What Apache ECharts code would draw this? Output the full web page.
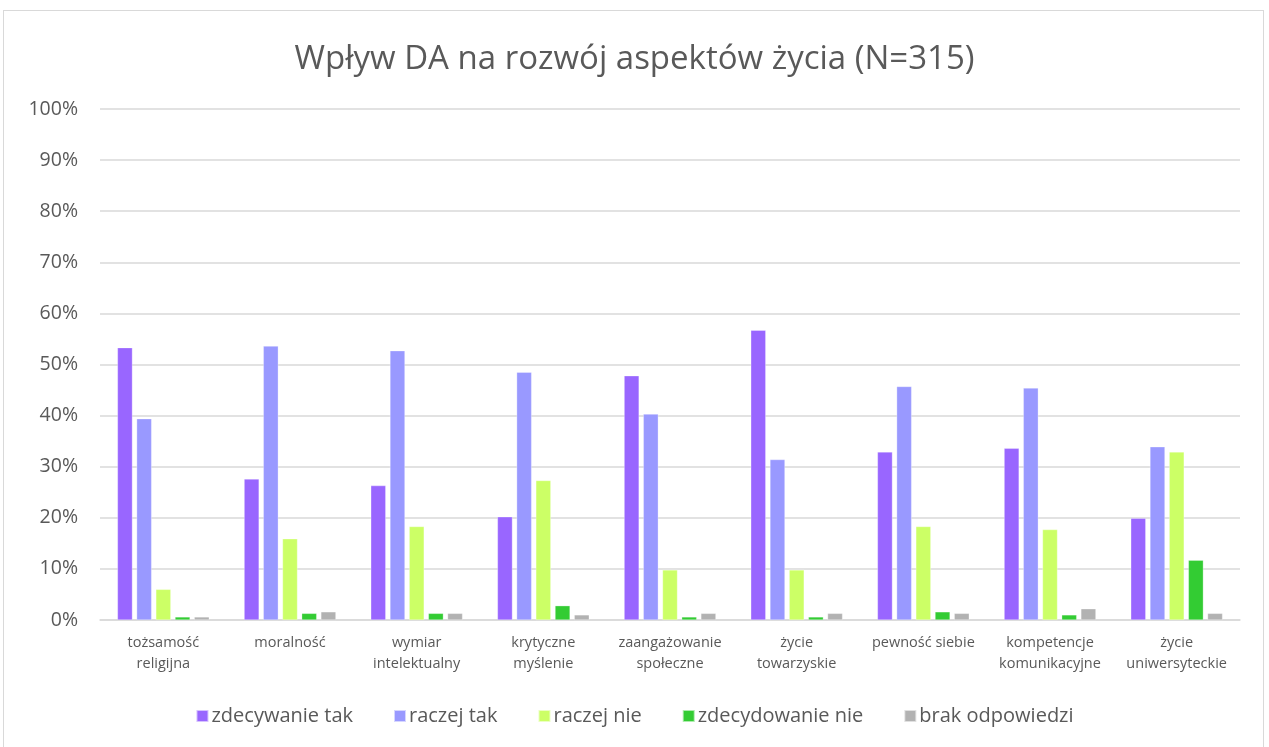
<!DOCTYPE html>
<html><head><meta charset="utf-8">
<script src="https://cdn.jsdelivr.net/npm/echarts@6/dist/echarts.min.js"></script>
<style>
html,body{margin:0;padding:0;background:#fff;}
#frame{position:absolute;left:3px;top:10px;width:1261px;height:740px;border:1px solid #d9d9d9;box-sizing:border-box;}
#c{position:absolute;left:0;top:0;width:1269px;height:747px;}
</style></head>
<body>
<div id="frame"></div>
<div id="c"></div>
<script>
const categories = ["tożsamość\nreligijna","moralność","wymiar\nintelektualny","krytyczne\nmyślenie","zaangażowanie\nspołeczne","życie\ntowarzyskie","pewność siebie","kompetencje\nkomunikacyjne","życie\nuniwersyteckie"];
const seriesNames = ["zdecywanie tak","raczej tak","raczej nie","zdecydowanie nie","brak odpowiedzi"];
const zdecydowanieTak = [53.3,27.6,26.3,20.2,47.8,56.7,32.9,33.6,19.9];
const raczejTak = [39.4,53.6,52.7,48.5,40.3,31.4,45.7,45.4,33.9];
const raczejNie = [6.0,15.9,18.3,27.3,9.8,9.8,18.3,17.7,32.9];
const zdecydowanieNie = [0.6,1.3,1.3,2.8,0.6,0.6,1.6,1.0,11.7];
const brakOdpowiedzi = [0.6,1.6,1.3,1.0,1.3,1.3,1.3,2.2,1.3];
const yTicks = [0,10,20,30,40,50,60,70,80,90,100];

const colors = ["#9966FF","#9999FF","#CCFF66","#33CC33","#B2B2B2"];
const dataSets = [zdecydowanieTak, raczejTak, raczejNie, zdecydowanieNie, brakOdpowiedzi];
const font = "'Open Sans', sans-serif";

const chart = echarts.init(document.getElementById('c'), null, {renderer:'canvas'});
chart.setOption({
  animation:false,
  color: colors,
  title:{text:"Wpływ DA na rozwój aspektów życia (N=315)", left:'center', top:38,
    textStyle:{fontFamily:font, fontSize:33, fontWeight:'normal', color:'#595959'}},
  legend:{bottom:16, left:'center', itemWidth:12, itemHeight:12, itemGap:40, icon:'rect',
    textStyle:{fontFamily:font, fontSize:20, color:'#595959', padding:[0,0,0,-2]},
    data: seriesNames},
  grid:{left:100, right:29, top:109, bottom:127, containLabel:false},
  xAxis:{type:'category', data:categories,
    axisLine:{lineStyle:{color:'#d9d9d9', width:1.5}}, axisTick:{show:false},
    axisLabel:{fontFamily:font, fontSize:14.5, color:'#595959', margin:12, lineHeight:21, interval:0}},
  yAxis:{type:'value', min:yTicks[0], max:yTicks[yTicks.length-1], interval:10,
    axisLine:{show:false}, axisTick:{show:false},
    splitLine:{lineStyle:{color:'#d9d9d9', width:1.5}},
    axisLabel:{fontFamily:font, fontSize:19.5, color:'#595959', margin:22, formatter: v => v + '%'}},
  series: seriesNames.map((n,i)=>({
    name:n, type:'bar', data:dataSets[i], barWidth:15, barGap:'28%',
    itemStyle:{color:colors[i], borderColor:'rgba(255,255,255,0.6)', borderWidth:0.5}
  }))
});
</script>
</body></html>
